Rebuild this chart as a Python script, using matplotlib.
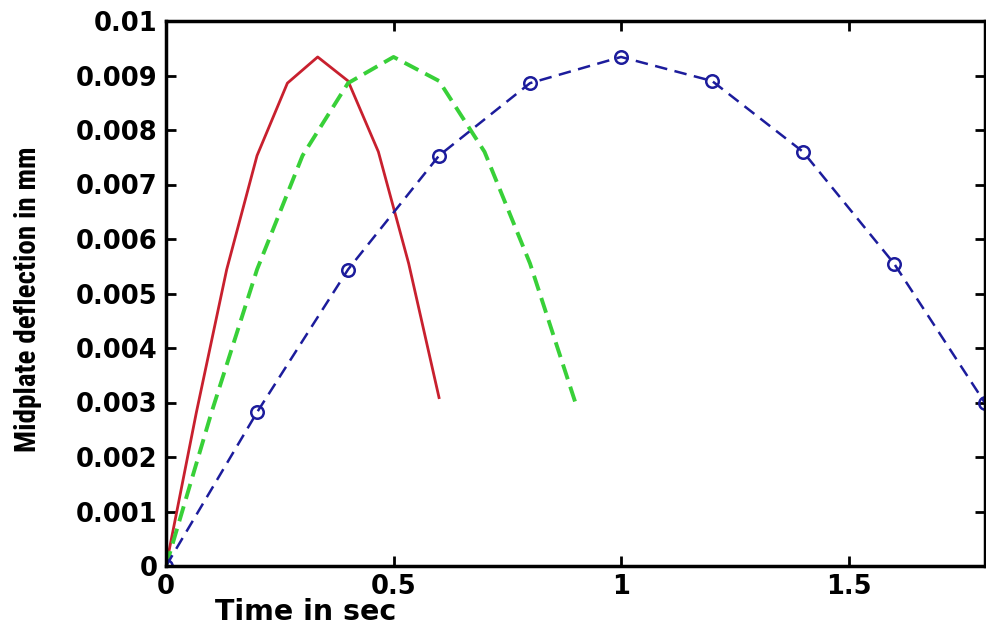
import matplotlib
matplotlib.use("Agg")
import matplotlib.pyplot as plt
from matplotlib import font_manager

# deflection values (same shape, different time scale)
t_blue = [0.0, 0.2, 0.4, 0.6, 0.8, 1.0, 1.2, 1.4, 1.6, 1.8]
t_green = [0.0, 0.1, 0.2, 0.3, 0.4, 0.5, 0.6, 0.7, 0.8, 0.9]
t_red = [0.0, 0.0667, 0.1333, 0.2, 0.2667, 0.3333, 0.4, 0.4667, 0.5333, 0.6]

w_blue = [0.0, 0.00282, 0.00544, 0.00753, 0.00886, 0.00934, 0.0089, 0.0076, 0.00555, 0.00299]
w_green = [0.0, 0.00282, 0.00544, 0.00753, 0.00886, 0.00934, 0.0089, 0.0076, 0.00555, 0.00299]
w_red = [0.0, 0.00282, 0.00544, 0.00753, 0.00886, 0.00934, 0.0089, 0.0076, 0.00555, 0.00309]

xticks = [0, 0.5, 1, 1.5]
xtick_labels = ["0", "0.5", "1", "1.5"]
yticks = [0, 0.001, 0.002, 0.003, 0.004, 0.005, 0.006, 0.007, 0.008, 0.009, 0.01]
ytick_labels = ["0", "0.001", "0.002", "0.003", "0.004", "0.005", "0.006",
                "0.007", "0.008", "0.009", "0.01"]

installed = {f.name for f in font_manager.fontManager.ttflist}
narrow = [n for n in ["Liberation Sans Narrow", "Roboto Condensed", "Open Sans Condensed"]
          if n in installed]

fig = plt.figure(figsize=(9.86, 6.25), dpi=100)
ax = fig.add_axes([0.1684, 0.0944, 0.8306, 0.872])

ax.plot(t_red, w_red, color="#c8202e", lw=2)
ax.plot(t_green, w_green, color="#38d038", lw=2.8, ls=(0, (4, 2)))
ax.plot(t_blue, w_blue, color="#1c1c9c", lw=1.8, ls=(0, (5, 3)),
        marker="o", ms=9, mfc="none", mec="#1c1c9c", mew=1.8)

ax.set_xlim(0, 1.8)
ax.set_ylim(0, 0.01)
ax.set_xticks(xticks)
ax.set_xticklabels(xtick_labels)
ax.set_yticks(yticks)
ax.set_yticklabels(ytick_labels)

ax.tick_params(direction="in", length=7, width=2, top=True, right=True,
               labelsize=18.5, pad=6)
for lab in ax.get_xticklabels() + ax.get_yticklabels():
    lab.set_fontfamily(["DejaVu Sans"])
    lab.set_fontweight("bold")
for sp in ax.spines.values():
    sp.set_linewidth(2.5)

ax.set_xlabel("Time in sec", fontsize=20.5, fontweight="bold",
              family=["DejaVu Sans"])
ax.xaxis.set_label_coords(0.171, -0.058)
ax.set_ylabel("Midplate deflection in mm", fontsize=21, fontweight="bold",
              family=narrow + ["Liberation Sans", "DejaVu Sans"])
ax.yaxis.set_label_coords(-0.152, 0.49)

fig.savefig("out.png", dpi=100)
